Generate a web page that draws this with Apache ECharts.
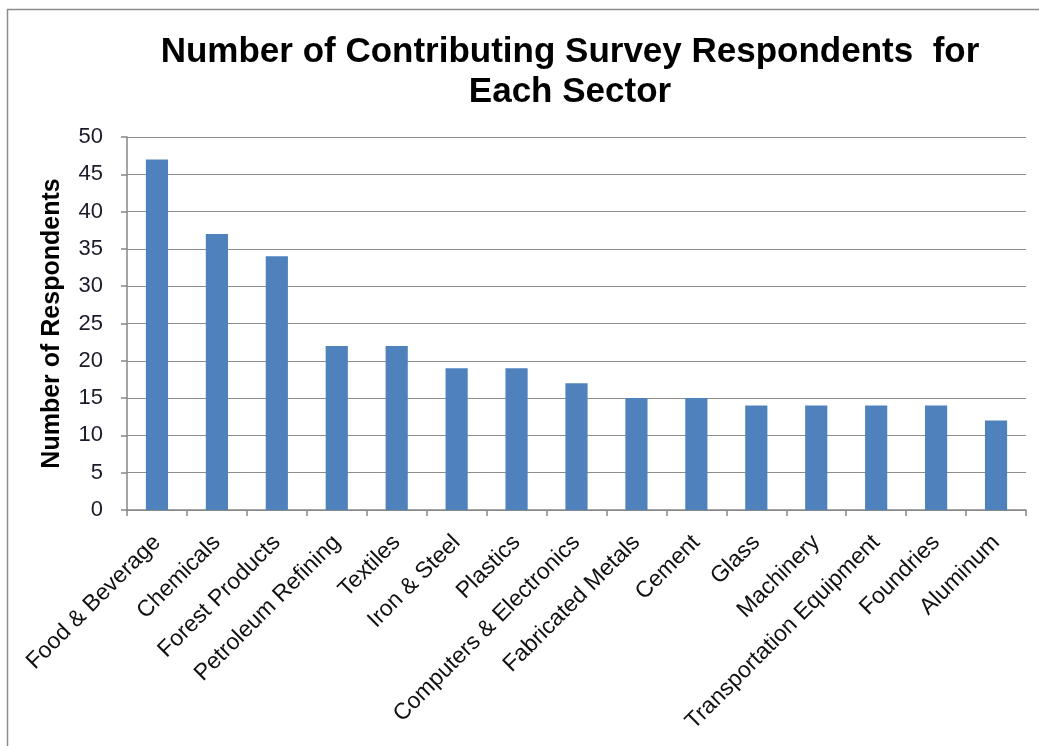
<!DOCTYPE html>
<html>
<head>
<meta charset="utf-8">
<script src="https://cdn.jsdelivr.net/npm/echarts@6/dist/echarts.min.js"></script>
<style>
  html, body { margin: 0; padding: 0; background: #fff; }
  #chart { width: 1039px; height: 746px; }
</style>
</head>
<body>
<div id="chart"></div>
<script>
const sectors = [
  'Food & Beverage', 'Chemicals', 'Forest Products', 'Petroleum Refining',
  'Textiles', 'Iron & Steel', 'Plastics', 'Computers & Electronics',
  'Fabricated Metals', 'Cement', 'Glass', 'Machinery',
  'Transportation Equipment', 'Foundries', 'Aluminum'
];
const respondents = [47, 37, 34, 22, 22, 19, 19, 17, 15, 15, 14, 14, 14, 14, 12];
const yTicks = [0, 5, 10, 15, 20, 25, 30, 35, 40, 45, 50];

const chart = echarts.init(document.getElementById('chart'));

chart.setOption({
  animation: false,
  textStyle: { fontFamily: 'Liberation Sans, Arial, sans-serif' },
  graphic: [{
    type: 'rect',
    shape: { x: 7.5, y: 9.5, width: 1100, height: 800 },
    style: { fill: 'none', stroke: '#8c8c8c', lineWidth: 1.5 },
    silent: true
  }],
  title: {
    text: 'Number of Contributing Survey Respondents  for\nEach Sector',
    left: 565,
    top: 27,
    textAlign: 'center',
    textStyle: {
      fontSize: 35,
      fontWeight: 'bold',
      color: '#000',
      lineHeight: 40,
      fontFamily: 'Liberation Sans, Arial, sans-serif'
    }
  },
  grid: { left: 127, right: 13, top: 137, bottom: 236, containLabel: false },
  xAxis: {
    type: 'category',
    data: sectors,
    axisLine: { lineStyle: { color: '#868686', width: 1.5 } },
    axisTick: { show: true, length: 6, lineStyle: { color: '#868686', width: 1.5 } },
    axisLabel: {
      rotate: 45,
      interval: 0,
      fontSize: 23,
      color: '#111',
      margin: 29
    }
  },
  yAxis: {
    type: 'value',
    min: yTicks[0],
    max: yTicks[yTicks.length - 1],
    interval: 5,
    name: 'Number of Respondents',
    nameLocation: 'middle',
    nameGap: 62,
    nameRotate: 90,
    nameTextStyle: { fontSize: 25, fontWeight: 'bold', color: '#000' },
    axisLine: { show: true, lineStyle: { color: '#868686', width: 1.5 } },
    axisTick: { show: true, length: 6, lineStyle: { color: '#868686', width: 1.5 } },
    axisLabel: { fontSize: 22, color: '#1a1a2a', margin: 24 },
    splitLine: { lineStyle: { color: '#8c8c8c', width: 1.2 } }
  },
  series: [{
    type: 'bar',
    data: respondents,
    barWidth: '37%',
    itemStyle: { color: '#4F81BD' }
  }]
});
</script>
</body>
</html>
